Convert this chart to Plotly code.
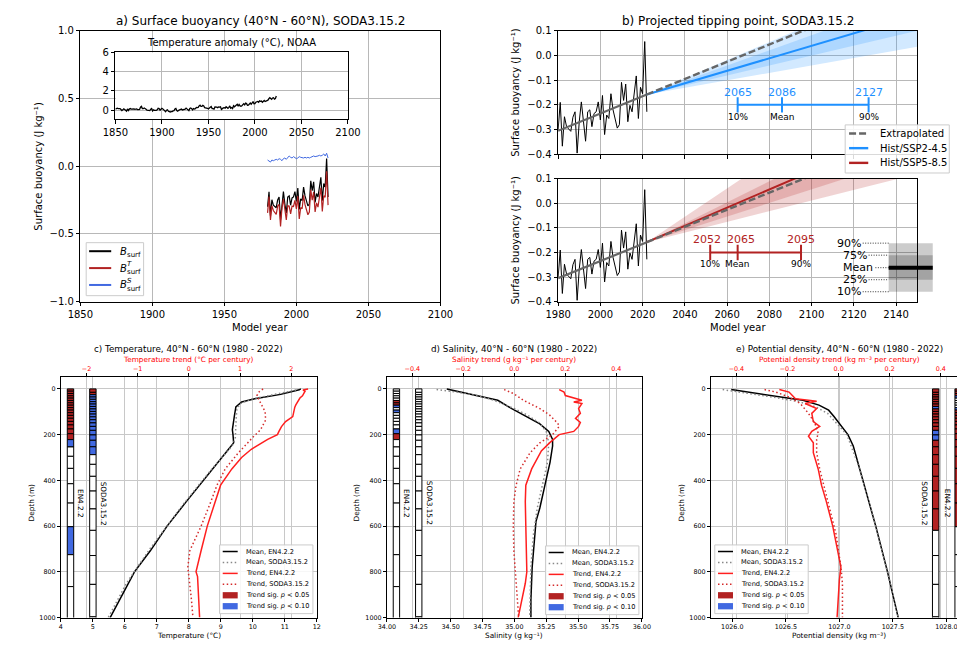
import plotly.graph_objects as go

W, H = 965, 645
FONT = "DejaVu Sans"


def fx(p):
    return p / W


def fy(p):
    return 1 - p / H


# ------------------------------------------------------------------ data
years = list(range(1980, 2023))
b_surf = [-0.300, -0.190, -0.367, -0.248, -0.288, -0.300, -0.307, -0.250, -0.228, -0.395,
          -0.268, -0.188, -0.280, -0.347, -0.228, -0.220, -0.288, -0.235, -0.228, -0.188,
          -0.261, -0.162, -0.320, -0.241, -0.255, -0.155, -0.220, -0.255, -0.294, -0.280,
          -0.109, -0.182, -0.116, -0.268, -0.202, -0.228, -0.162, -0.083, -0.255, -0.129,
          -0.155, 0.056, -0.228]
b_surf_T = [-0.345, -0.225, -0.397, -0.293, -0.328, -0.345, -0.357, -0.295, -0.283, -0.445,
            -0.308, -0.243, -0.340, -0.397, -0.293, -0.295, -0.353, -0.295, -0.298, -0.253,
            -0.316, -0.222, -0.390, -0.306, -0.315, -0.215, -0.285, -0.315, -0.359, -0.340,
            -0.174, -0.252, -0.191, -0.338, -0.272, -0.303, -0.242, -0.158, -0.335, -0.219,
            -0.230, -0.039, -0.288]
b_surf_S = [0.045, 0.035, 0.030, 0.045, 0.040, 0.045, 0.050, 0.045, 0.055, 0.050,
            0.040, 0.055, 0.060, 0.050, 0.065, 0.075, 0.065, 0.060, 0.070, 0.065,
            0.055, 0.060, 0.070, 0.065, 0.060, 0.060, 0.065, 0.060, 0.065, 0.060,
            0.065, 0.070, 0.075, 0.070, 0.070, 0.075, 0.080, 0.075, 0.080, 0.090,
            0.075, 0.095, 0.060]

trend_years = [1980, 2022]
trend_vals = [-0.305, -0.158]
extrap_years = [2022, 2150]
extrap_vals = [-0.158, 0.288]

noaa_years = list(range(1850, 2024))
noaa_anom = [0.10, 0.18, 0.20, 0.16, 0.18, 0.16, 0.06, -0.05, 0.03, 0.13,
             0.06, 0.01, -0.10, 0.13, -0.04, 0.11, 0.16, 0.10, 0.11, 0.14,
             0.13, 0.08, 0.13, 0.12, 0.05, 0.03, 0.07, 0.30, 0.39, 0.16,
             0.15, 0.22, 0.18, 0.10, 0.00, -0.01, 0.01, -0.05, 0.10, 0.17,
             -0.08, 0.03, -0.03, -0.05, -0.03, 0.03, 0.19, 0.17, 0.00, 0.10,
             0.19, 0.13, 0.00, -0.08, -0.17, -0.01, 0.04, -0.12, -0.16, -0.19,
             -0.15, -0.16, -0.08, -0.06, 0.13, 0.18, -0.04, -0.11, -0.02, 0.03,
             0.05, 0.12, 0.02, 0.04, 0.03, 0.10, 0.21, 0.11, 0.10, -0.05,
             0.17, 0.22, 0.15, 0.02, 0.17, 0.12, 0.16, 0.27, 0.26, 0.29,
             0.44, 0.52, 0.38, 0.38, 0.50, 0.44, 0.25, 0.24, 0.20, 0.19,
             0.12, 0.26, 0.29, 0.37, 0.16, 0.15, 0.10, 0.33, 0.35, 0.31,
             0.26, 0.34, 0.32, 0.35, 0.08, 0.18, 0.23, 0.26, 0.21, 0.35,
             0.31, 0.19, 0.29, 0.44, 0.20, 0.27, 0.17, 0.45, 0.35, 0.44,
             0.54, 0.60, 0.42, 0.59, 0.44, 0.40, 0.46, 0.60, 0.67, 0.55,
             0.73, 0.68, 0.50, 0.51, 0.59, 0.73, 0.61, 0.74, 0.89, 0.66,
             0.67, 0.82, 0.91, 0.90, 0.82, 0.96, 0.92, 0.94, 0.82, 0.92,
             1.00, 0.89, 0.92, 0.96, 1.03, 1.18, 1.29, 1.20, 1.13, 1.26,
             1.29, 1.14, 1.19, 1.46]

proj_years = [2022, 2150]
ssp245_p10 = [-0.158, 0.310]
ssp245_p25 = [-0.158, 0.235]
ssp245_mean = [-0.158, 0.165]
ssp245_p75 = [-0.158, 0.100]
ssp245_p90 = [-0.158, 0.035]
ssp585_p10 = [-0.158, 0.580]
ssp585_p25 = [-0.158, 0.390]
ssp585_mean = [-0.158, 0.316]
ssp585_p75 = [-0.158, 0.195]
ssp585_p90 = [-0.158, 0.120]

tip_labels = ["10%", "Mean", "90%"]
ssp245_tip_years = [2065, 2086, 2127]
ssp585_tip_years = [2052, 2065, 2095]
tip_level = -0.2

pct_labels = ["90%", "75%", "Mean", "25%", "10%"]
pct_vals = [-0.162, -0.211, -0.262, -0.311, -0.360]

# depth profiles ---------------------------------------------------------
temp_en4_depth = [0, 4, 24, 43, 57, 79, 121, 179, 200, 236, 264, 350, 407, 493, 600, 707, 800, 1000]
temp_en4 = [11.50, 11.45, 10.87, 10.06, 9.65, 9.47, 9.42, 9.36, 9.38, 9.40, 9.24, 8.74, 8.43, 7.92, 7.32, 6.80, 6.30, 5.54]
temp_soda_depth = [5, 25, 45, 65, 90, 130, 180, 220, 250, 350, 500, 700, 850, 1000]
temp_soda = [11.35, 10.70, 9.95, 9.60, 9.50, 9.48, 9.47, 9.45, 9.35, 8.72, 7.85, 6.78, 6.05, 5.48]
ttr_en4_depth = [0, 5, 10, 20, 30, 40, 50, 60, 70, 80, 100, 121, 143, 165, 186, 200, 221, 250, 264, 300, 350, 421, 493, 600, 707, 800, 821, 1000]
ttr_en4 = [2.33, 2.23, 2.27, 2.24, 2.22, 2.17, 2.14, 2.11, 2.09, 2.07, 2.05, 2.03, 1.89, 1.81, 1.76, 1.73, 1.54, 1.32, 1.22, 1.03, 0.84, 0.62, 0.52, 0.36, 0.24, 0.14, 0.17, 0.21]
ttr_soda_depth = [0, 15, 30, 60, 100, 136, 179, 207, 279, 350, 421, 493, 600, 707, 779, 921, 1000]
ttr_soda = [1.45, 1.36, 1.33, 1.40, 1.49, 1.50, 1.40, 1.27, 0.97, 0.71, 0.55, 0.43, 0.24, 0.02, -0.02, 0.05, 0.08]

sal_en4_depth = [0, 21, 36, 50, 86, 114, 153, 186, 221, 250, 321, 421, 521, 579, 693, 779, 921, 1000]
sal_en4 = [34.47, 34.64, 34.77, 34.87, 34.98, 35.07, 35.20, 35.27, 35.30, 35.30, 35.28, 35.24, 35.20, 35.17, 35.15, 35.14, 35.13, 35.13]
sal_soda_depth = [3, 15, 30, 50, 86, 114, 150, 186, 236, 321, 421, 521, 636, 779, 1000]
sal_soda = [34.39, 34.56, 34.72, 34.84, 35.00, 35.10, 35.20, 35.25, 35.27, 35.26, 35.22, 35.18, 35.15, 35.13, 35.12]
str_en4_depth = [3, 14, 29, 36, 50, 57, 64, 86, 107, 129, 147, 164, 186, 200, 236, 271, 350, 421, 493, 600, 800, 850, 1000]
str_en4 = [0.176, 0.195, 0.200, 0.220, 0.265, 0.233, 0.265, 0.252, 0.259, 0.240, 0.259, 0.252, 0.233, 0.176, 0.138, 0.106, 0.068, 0.045, 0.043, 0.045, 0.049, 0.043, 0.015]
str_soda_depth = [3, 21, 50, 86, 114, 150, 164, 200, 236, 279, 350, 421, 493, 600, 707, 800, 921, 1000]
str_soda = [-0.040, -0.002, 0.036, 0.100, 0.138, 0.170, 0.176, 0.150, 0.100, 0.062, 0.023, 0.007, -0.002, -0.004, -0.002, 0.004, 0.010, 0.017]

rho_en4_depth = [3, 21, 36, 50, 71, 93, 121, 164, 200, 250, 350, 493, 600, 800, 1000]
rho_en4 = [1025.99, 1026.26, 1026.48, 1026.66, 1026.81, 1026.90, 1026.95, 1027.02, 1027.08, 1027.13, 1027.19, 1027.28, 1027.34, 1027.45, 1027.55]
rho_soda_depth = [3, 21, 39, 57, 79, 107, 150, 200, 350, 600, 800, 1000]
rho_soda = [1025.91, 1026.17, 1026.42, 1026.63, 1026.78, 1026.89, 1026.97, 1027.07, 1027.19, 1027.34, 1027.45, 1027.55]
rtr_en4_depth = [3, 14, 29, 43, 50, 54, 64, 79, 86, 107, 143, 164, 186, 207, 236, 279, 350, 421, 493, 600, 707, 779, 836, 921, 1000]
rtr_en4 = [-0.232, -0.194, -0.181, -0.169, -0.118, -0.086, -0.131, -0.099, -0.086, -0.105, -0.099, -0.074, -0.105, -0.118, -0.099, -0.099, -0.080, -0.067, -0.048, -0.023, -0.004, 0.009, 0.003, -0.001, -0.006]
rtr_soda_depth = [3, 14, 36, 64, 107, 150, 193, 221, 279, 350, 493, 636, 779, 850, 1000]
rtr_soda = [-0.290, -0.245, -0.194, -0.150, -0.118, -0.093, -0.080, -0.086, -0.086, -0.074, -0.042, -0.010, 0.009, 0.015, 0.015]

# layer bounds (m) and significance codes (0 none, 1 p<0.05, 2 p<0.10)
en4_bounds = [0, 10.05, 20.12, 30.22, 40.37, 50.57, 60.87, 71.3, 81.91, 92.79, 104.06, 115.88, 128.49,
              142.23, 157.58, 175.23, 196.15, 221.76, 253.9, 294.9, 347.6, 414.8, 499.3, 602.7, 725.0,
              864.6, 1018.7]
soda_bounds = [0, 15.1, 25.2, 35.4, 45.6, 55.9, 66.3, 76.8, 87.6, 98.6, 110.1, 122.1, 134.9, 148.7,
               164.0, 181.3, 201.3, 224.8, 253.1, 287.6, 330.0, 382.4, 446.7, 524.9, 618.7, 728.7,
               854.9, 996.7, 1152.5]
sig_temp_en4 = [1, 1, 1, 1, 1, 1, 1, 1, 1, 1, 1, 1, 1, 1, 1, 1, 1, 2, 0, 0, 0, 0, 0, 2, 0, 0]
sig_temp_soda = [1, 1, 2, 2, 2, 2, 2, 2, 2, 2, 2, 2, 2, 2, 2, 2, 2, 2, 2, 0, 0, 0, 0, 0, 0, 0, 0, 0]
sig_sal_en4 = [0, 0, 0, 0, 0, 1, 1, 2, 0, 2, 0, 0, 0, 0, 0, 2, 1, 0, 0, 0, 0, 0, 0, 0, 0, 0]
sig_sal_soda = [0] * 28
sig_rho_en4 = [1, 1, 1, 2, 0, 0, 0, 0, 2, 1, 1, 1, 1, 1, 1, 1, 1, 1, 1, 1, 1, 1, 1, 0, 0, 0]
sig_rho_soda = [1, 1, 1, 1, 1, 1, 1, 2, 1, 1, 1, 1, 1, 1, 1, 2, 2, 1, 1, 1, 1, 1, 1, 1, 0, 0, 0, 0]

# ------------------------------------------------------------------ styles
FIREBRICK = "#b22222"
ROYAL = "#4169e1"
DODGER = "#1e90ff"
TREND_RED = "#ff1f1f"
TREND_RED_DOT = "#d42a2a"
GRAY_TREND = "#666666"
SIG_COLORS = {0: "white", 1: FIREBRICK, 2: ROYAL}
GRID = "#b8b8b8"
GRID2 = "#c8c8c8"

fig = go.Figure()
shapes = []
annos = []


def line(x, y, xa, ya, color, width, dash=None):
    fig.add_trace(go.Scatter(x=x, y=y, mode="lines", xaxis=xa, yaxis=ya,
                             line=dict(color=color, width=width, dash=dash),
                             hoverinfo="skip", showlegend=False))


def band(x, lo, hi, xa, ya, fill):
    fig.add_trace(go.Scatter(x=x + x[::-1], y=hi + lo[::-1], mode="lines", fill="toself",
                             fillcolor=fill, line=dict(width=0), xaxis=xa, yaxis=ya,
                             hoverinfo="skip", showlegend=False))


def text(xp, yp, s, size, color="black", angle=0, xanchor="center", yanchor="middle"):
    annos.append(dict(xref="paper", yref="paper", x=fx(xp), y=fy(yp), text=s, showarrow=False,
                      textangle=angle, xanchor=xanchor, yanchor=yanchor,
                      font=dict(family=FONT, size=size, color=color)))


def legend(left, top, width, height, items, size, row0, step, h0, h1, t0):
    shapes.append(dict(type="rect", xref="paper", yref="paper", x0=fx(left), x1=fx(left + width),
                       y0=fy(top + height), y1=fy(top), fillcolor="rgba(255,255,255,0.85)",
                       line=dict(color="#cccccc", width=1), layer="above"))
    for i, it in enumerate(items):
        yr = top + row0 + i * step
        if it["kind"] == "line":
            shapes.append(dict(type="line", xref="paper", yref="paper", x0=fx(left + h0),
                               x1=fx(left + h1), y0=fy(yr), y1=fy(yr), layer="above",
                               line=dict(color=it["color"], width=it["width"], dash=it.get("dash", "solid"))))
        else:
            shapes.append(dict(type="rect", xref="paper", yref="paper", x0=fx(left + h0),
                               x1=fx(left + h1), y0=fy(yr + 3.2), y1=fy(yr - 3.2), layer="above",
                               fillcolor=it["color"], line=dict(width=0)))
        text(left + t0, yr, it["text"], size, xanchor="left")
        # math-style subscript / superscript drawn as separate smaller texts
        if "sub" in it:
            text(left + t0 + 7.3, yr + 4, it["sub"], size * 0.7, xanchor="left")
        if "sup" in it:
            text(left + t0 + 7.3, yr - 4.5, it["sup"], size * 0.7, xanchor="left")


# ------------------------------------------------------------------ panel a
line(years, b_surf, "x", "y", "black", 1.2)
line(years, b_surf_T, "x", "y", FIREBRICK, 1.2)
line(years, b_surf_S, "x", "y", ROYAL, 1.0)
line(noaa_years, noaa_anom, "x2", "y2", "black", 1.3)

inset_xr = [1850, 2100]
inset_yr = [-0.92, 6]
shapes.append(dict(type="rect", xref="x2", yref="y2", x0=inset_xr[0], x1=inset_xr[1],
                   y0=inset_yr[0], y1=inset_yr[1], fillcolor="white", line=dict(width=0), layer="below"))

# ------------------------------------------------------------------ panel b


def proj_panel(xa, ya, p10, p25, mean, p75, p90, color, rgba, tips, shifts):
    band(proj_years, p90, p10, xa, ya, rgba)
    band(proj_years, p75, p25, xa, ya, rgba)
    line(years, b_surf, xa, ya, "black", 1.0)
    line(trend_years, trend_vals, xa, ya, GRAY_TREND, 2.2)
    line(proj_years, mean, xa, ya, color, 2.0)
    line(extrap_years, extrap_vals, xa, ya, GRAY_TREND, 2.4, dash="7px,3px")
    line([tips[0], tips[-1]], [tip_level, tip_level], xa, ya, color, 2.0)
    fig.add_trace(go.Scatter(x=tips, y=[tip_level] * len(tips), mode="markers", xaxis=xa, yaxis=ya,
                             marker=dict(symbol="line-ns", size=11, line=dict(color=color, width=2)),
                             hoverinfo="skip", showlegend=False))
    for yr, lab, sh in zip(tips, tip_labels, shifts):
        annos.append(dict(xref=xa, yref=ya, x=yr, y=tip_level, text=str(yr), showarrow=False,
                          xanchor="center", yanchor="bottom", yshift=4, xshift=sh,
                          font=dict(family=FONT, size=11, color=color)))
        annos.append(dict(xref=xa, yref=ya, x=yr, y=tip_level, text=lab, showarrow=False,
                          xanchor="center", yanchor="top", yshift=-5,
                          font=dict(family=FONT, size=9, color="black")))


proj_panel("x3", "y3", ssp245_p10, ssp245_p25, ssp245_mean, ssp245_p75, ssp245_p90,
           DODGER, "rgba(30,144,255,0.2)", ssp245_tip_years, [0, 0, 0])
proj_panel("x4", "y4", ssp585_p10, ssp585_p25, ssp585_mean, ssp585_p75, ssp585_p90,
           FIREBRICK, "rgba(178,34,34,0.2)", ssp585_tip_years, [-3.5, 3, 0])

# percentile box (extends past the right spine)
box_x = [2136.5, 2158]
label_x = [2124.2, 2127, 2130.2, 2127, 2124.2]
band(box_x, [pct_vals[4]] * 2, [pct_vals[0]] * 2, "x5", "y5", "rgba(0,0,0,0.2)")
band(box_x, [pct_vals[3]] * 2, [pct_vals[1]] * 2, "x5", "y5", "rgba(0,0,0,0.2)")
line(box_x, [pct_vals[2]] * 2, "x5", "y5", "black", 4)
lx, ly = [], []
for lab, v, xl in zip(pct_labels, pct_vals, label_x):
    lx += [xl, box_x[0], None]
    ly += [v, v, None]
    annos.append(dict(xref="x4", yref="y4", x=xl, y=v, text=lab, showarrow=False, xanchor="right",
                      yanchor="middle", font=dict(family=FONT, size=11, color="black")))
line(lx, ly, "x4", "y4", "black", 0.8, dash="1px,1.5px")

# ------------------------------------------------------------------ panels c, d, e


def sig_column(xa, ya, center, width, bounds, codes):
    n = len(codes)
    tops = bounds[:n]
    thick = [bounds[i + 1] - bounds[i] for i in range(n)]
    fig.add_trace(go.Bar(x=[center] * n, y=thick, base=tops, width=width, xaxis=xa, yaxis=ya,
                         marker=dict(color=[SIG_COLORS[c] for c in codes],
                                     line=dict(color="black", width=1)),
                         hoverinfo="skip", showlegend=False))


def profile(xb, xt, ya, m_en4, m_soda, t_en4, t_soda):
    line(m_en4[1], m_en4[0], xb, ya, "black", 1.5)
    line(m_soda[1], m_soda[0], xb, ya, "#888888", 1.5, dash="1.5px,2.5px")
    line(t_en4[1], t_en4[0], xt, ya, TREND_RED, 1.5)
    line(t_soda[1], t_soda[0], xt, ya, TREND_RED_DOT, 1.5, dash="1.5px,2.5px")


# c
sig_column("x6", "y6", 4.3, 0.2, en4_bounds, sig_temp_en4)
sig_column("x6", "y6", 5.0, 0.2, soda_bounds, sig_temp_soda)
profile("x6", "x7", "y6", (temp_en4_depth, temp_en4), (temp_soda_depth, temp_soda),
        (ttr_en4_depth, ttr_en4), (ttr_soda_depth, ttr_soda))
# d
sig_column("x8", "y8", 34.075, 0.05, en4_bounds, sig_sal_en4)
sig_column("x8", "y8", 34.25, 0.05, soda_bounds, sig_sal_soda)
profile("x8", "x9", "y8", (sal_en4_depth, sal_en4), (sal_soda_depth, sal_soda),
        (str_en4_depth, str_en4), (str_soda_depth, str_soda))
# e
sig_column("x10", "y10", 1027.9, 0.06, soda_bounds, sig_rho_soda)
sig_column("x10", "y10", 1028.11, 0.06, en4_bounds, sig_rho_en4)
profile("x10", "x11", "y10", (rho_en4_depth, rho_en4), (rho_soda_depth, rho_soda),
        (rtr_en4_depth, rtr_en4), (rtr_soda_depth, rtr_soda))

for xr, xv, lab, anc in [("x6", 4.4, "EN4.2.2", "left"), ("x6", 5.1, "SODA3.15.2", "left"),
                         ("x8", 34.1, "EN4.2.2", "left"), ("x8", 34.275, "SODA3.15.2", "left"),
                         ("x10", 1027.87, "SODA3.15.2", "right"), ("x10", 1028.08, "EN4.2.2", "right")]:
    yr = "y6" if xr == "x6" else ("y8" if xr == "x8" else "y10")
    annos.append(dict(xref=xr, yref=yr, x=xv, y=500, text=lab, showarrow=False, textangle=90,
                      xanchor=anc, yanchor="middle", xshift=1 if anc == "left" else -1,
                      font=dict(family=FONT, size=7.3, color="black")))

# ------------------------------------------------------------------ axes


def axis(size, grid=GRID, **kw):
    d = dict(showline=True, linecolor="black", linewidth=1, ticks="outside", ticklen=3.5,
             tickwidth=0.8, tickcolor="black", showgrid=True, gridcolor=grid, gridwidth=0.9,
             zeroline=False, mirror=True, tickfont=dict(family=FONT, size=size, color="black"))
    d.update(kw)
    return d


a_x = [fx(61), fx(431)]
a_y = [fy(293), fy(17)]
b_x = [fx(552), fx(921)]
bt_y = [fy(143), fy(17)]
bb_y = [fy(293), fy(168)]
low_y = [fy(615), fy(370)]
c_x = [fx(41), fx(304)]
d_x = [fx(376), fx(638)]
e_x = [fx(709), 1.0]
b_range = [1980, 2150]
ext_end = b_range[1] + (b_range[1] - b_range[0]) * (937 - 921) / (921 - 552)
depth_range = [1000, -51.5]
e_bot_end = 1025.8 + (965 - 709) / 110.0
e_top_end = -0.5 + (965 - 709) / 262.5

hidden = dict(visible=False, tickmode="array", tickvals=[], showticklabels=False, showgrid=False,
              zeroline=False)

layout_axes = dict(
    xaxis=axis(10, domain=a_x, range=[1850, 2100], dtick=50, anchor="y"),
    yaxis=axis(10, domain=a_y, range=[-1, 1], dtick=0.5, tickformat=".1f", anchor="x"),
    xaxis2=axis(10, domain=[fx(97), fx(336)], range=inset_xr, dtick=50, anchor="y2"),
    yaxis2=axis(10, domain=[fy(107), fy(39)], range=inset_yr, tickvals=[0, 2, 4, 6], anchor="x2"),
    xaxis3=axis(10, domain=b_x, range=b_range, tickmode="array", tickvals=[], showgrid=False,
                minor=dict(tickmode="linear", tick0=1980, dtick=20, ticks="outside", ticklen=3.5,
                           tickwidth=0.8, tickcolor="black", showgrid=True, gridcolor=GRID,
                           gridwidth=0.9),
                anchor="y3"),
    yaxis3=axis(10, domain=bt_y, range=[-0.4, 0.1], dtick=0.1, tickformat=".1f", anchor="x3"),
    xaxis4=axis(10, domain=b_x, range=b_range, dtick=20, tick0=1980, anchor="y4"),
    yaxis4=axis(10, domain=bb_y, range=[-0.4, 0.1], dtick=0.1, tickformat=".1f", anchor="x4"),
    xaxis5=dict(domain=[fx(552), fx(937)], range=[b_range[0], ext_end], anchor="y5", **hidden),
    yaxis5=dict(domain=bb_y, range=[-0.4, 0.1], anchor="x5", **hidden),
    xaxis6=axis(6.4, GRID2, domain=c_x, range=[4, 12], dtick=1, anchor="y6", mirror=False, ticklen=3),
    xaxis7=axis(6.4, GRID2, overlaying="x6", side="top", range=[-2.5, 2.5], dtick=1, anchor="y6",
                mirror=False, ticklen=3, tickfont=dict(family=FONT, size=6.4, color="red")),
    yaxis6=axis(6.4, GRID2, domain=low_y, range=depth_range, dtick=200, anchor="x6", ticklen=3),
    xaxis8=axis(6.4, GRID2, domain=d_x, range=[34, 36], dtick=0.25, tickformat=".2f", anchor="y8",
                mirror=False, ticklen=3),
    xaxis9=axis(6.4, GRID2, overlaying="x8", side="top", range=[-0.5, 0.5], dtick=0.2, tickformat=".1f",
                anchor="y8", mirror=False, ticklen=3, tickfont=dict(family=FONT, size=6.4, color="red")),
    yaxis8=axis(6.4, GRID2, domain=low_y, range=depth_range, dtick=200, anchor="x8", ticklen=3),
    xaxis10=axis(6.4, GRID2, domain=e_x, range=[1025.8, e_bot_end], tick0=1026, dtick=0.5, tickformat=".1f",
                 anchor="y10", mirror=False, ticklen=3),
    xaxis11=axis(6.4, GRID2, overlaying="x10", side="top", range=[-0.5, e_top_end], dtick=0.2,
                 tickformat=".1f", anchor="y10", mirror=False, ticklen=3,
                 tickfont=dict(family=FONT, size=6.4, color="red")),
    yaxis10=axis(6.4, GRID2, domain=low_y, range=depth_range, dtick=200, anchor="x10", ticklen=3, mirror=False),
)

# ------------------------------------------------------------------ texts
BUOY = "Surface buoyancy (J kg\u207b\u00b9)"
text(246, 7, "a) Surface buoyancy (40°N - 60°N), SODA3.15.2", 12)
text(736.5, 7, "b) Projected tipping point, SODA3.15.2", 12)
text(216.5, 29, "Temperature anomaly (°C), NOAA", 10)
text(18, 155, BUOY, 10, angle=-90)
text(246, 319, "Model year", 10)
text(508, 80, BUOY, 10, angle=-90)
text(508, 230.5, BUOY, 10, angle=-90)
text(736.5, 319, "Model year", 10)

for cx, ylab_x, title, ttl, btl in [
        (172.5, 11, "c) Temperature, 40°N - 60°N (1980 - 2022)", "Temperature trend (°C per century)",
         "Temperature (°C)"),
        (507, 345, "d) Salinity, 40°N - 60°N (1980 - 2022)", "Salinity trend (g kg\u207b\u00b9 per century)",
         "Salinity (g kg\u207b\u00b9)"),
        (841, 679, "e) Potential density, 40°N - 60°N (1980 - 2022)",
         "Potential density trend (kg m\u207b\u00b3 per century)", "Potential density (kg m\u207b\u00b3)")]:
    text(cx, 341, title, 8.8)
    text(cx, 352, ttl, 7.3, color="red")
    text(cx, 633, btl, 7.3)
    text(ylab_x, 498, "Depth (m)", 7.3, angle=-90)

# ------------------------------------------------------------------ legends
legend(67, 233, 59, 54, [
    dict(kind="line", color="black", width=2, text="<i>B</i>", sub="surf"),
    dict(kind="line", color=FIREBRICK, width=2, text="<i>B</i>", sub="surf", sup="<i>T</i>"),
    dict(kind="line", color=ROYAL, width=2, text="<i>B</i>", sub="surf", sup="<i>S</i>"),
], 10, 8.7, 17.2, 3, 25.7, 33)
legend(847, 113, 107, 49, [
    dict(kind="line", color=GRAY_TREND, width=2.4, dash="7px,3px", text="Extrapolated"),
    dict(kind="line", color=DODGER, width=2.4, text="Hist/SSP2-4.5"),
    dict(kind="line", color=FIREBRICK, width=2.4, text="Hist/SSP5-8.5"),
], 10, 8.7, 15, 4, 23.7, 34)
prof_items = [
    dict(kind="line", color="black", width=1.5, text="Mean, EN4.2.2"),
    dict(kind="line", color="#888888", width=1.5, dash="1.5px,2.5px", text="Mean, SODA3.15.2"),
    dict(kind="line", color=TREND_RED, width=1.5, text="Trend, EN4.2.2"),
    dict(kind="line", color=TREND_RED_DOT, width=1.5, dash="1.5px,2.5px", text="Trend, SODA3.15.2"),
    dict(kind="patch", color=FIREBRICK, text="Trend sig. <i>p</i> &lt; 0.05"),
    dict(kind="patch", color=ROYAL, text="Trend sig. <i>p</i> &lt; 0.10"),
]
for lx0, ly0 in [(204, 541), (539, 542), (713, 541)]:
    legend(lx0, ly0, 96, 70, prof_items, 6.6, 6.7, 11.15, 3.3, 18.7, 24.7)

fig.update_layout(
    width=W, height=H, autosize=False, margin=dict(l=0, r=0, t=0, b=0),
    paper_bgcolor="white", plot_bgcolor="rgba(0,0,0,0)", showlegend=False, barmode="overlay",
    font=dict(family=FONT, size=10, color="black"),
    shapes=shapes, annotations=annos, **layout_axes,
)

fig.write_html("out.html", config={"displayModeBar": False})
